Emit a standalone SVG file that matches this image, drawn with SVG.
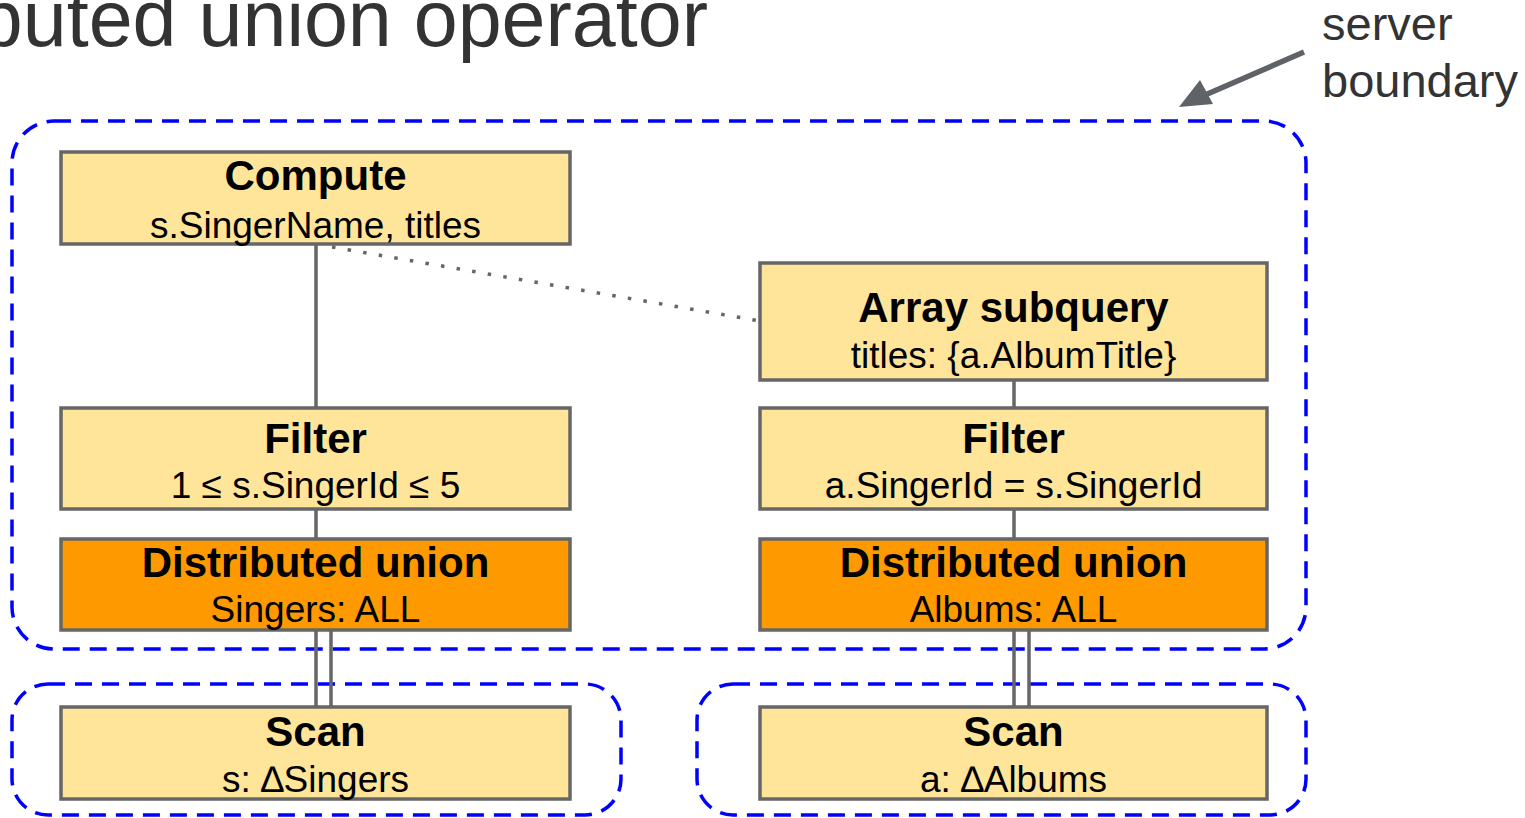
<svg xmlns="http://www.w3.org/2000/svg" width="1525" height="818" viewBox="0 0 1525 818">
<style>
.box{fill:#ffe599;stroke:#666666;stroke-width:3.5}
.du{fill:#ff9900;stroke:#666666;stroke-width:3.5}
.b{font-family:"Liberation Sans",Arial,sans-serif;font-weight:bold;font-size:42px;fill:#000;text-anchor:middle}
.r{font-family:"Liberation Sans",Arial,sans-serif;font-size:37px;fill:#000;text-anchor:middle}
.bound{fill:none;stroke:#0000ff;stroke-width:3.5;stroke-dasharray:17 10}
.conn{stroke:#666666;stroke-width:3.5;fill:none}
.ann{font-family:"Liberation Sans",Arial,sans-serif;fill:#333333}
</style>
<rect width="1525" height="818" fill="#ffffff"/>
<text class="ann" font-size="79" text-anchor="end" x="708" y="46">Distributed union operator</text>
<g id="server-label">
<text class="ann" font-size="47" x="1322" y="40">server</text>
<text class="ann" font-size="47" x="1322" y="97">boundary</text>
<line x1="1304" y1="52" x2="1205" y2="95" stroke="#5f6368" stroke-width="5.5"/>
<polygon points="1179,107 1200,80 1213,104" fill="#5f6368"/>
</g>
<g id="boundaries">
<rect class="bound" x="12" y="121" width="1294" height="528" rx="42"/>
<rect class="bound" x="12" y="684" width="609" height="131" rx="36"/>
<rect class="bound" x="697" y="684" width="609" height="131" rx="36"/>
</g>
<g id="connectors">
<line class="conn" x1="316" y1="244" x2="316" y2="408"/>
<line class="conn" x1="316" y1="509" x2="316" y2="539"/>
<line class="conn" x1="316" y1="630" x2="316" y2="707"/>
<line class="conn" x1="331" y1="630" x2="331" y2="707"/>
<line class="conn" x1="1014" y1="380" x2="1014" y2="408"/>
<line class="conn" x1="1014" y1="509" x2="1014" y2="539"/>
<line class="conn" x1="1014" y1="630" x2="1014" y2="707"/>
<line class="conn" x1="1029" y1="630" x2="1029" y2="707"/>
<line x1="332" y1="247" x2="760" y2="321" stroke="#666666" stroke-width="3.5" stroke-dasharray="3.5 12.3"/>
</g>
<g id="compute">
<rect class="box" x="61" y="152" width="509" height="92"/>
<text class="b" x="315.5" y="190">Compute</text>
<text class="r" x="315.5" y="238">s.SingerName, titles</text>
</g>
<g id="array-subquery">
<rect class="box" x="760" y="263" width="507" height="117"/>
<text class="b" x="1013.5" y="322">Array subquery</text>
<text class="r" x="1013.5" y="368">titles: {a.AlbumTitle}</text>
</g>
<g id="filter-left">
<rect class="box" x="61" y="408" width="509" height="101"/>
<text class="b" x="315.5" y="453">Filter</text>
<text class="r" x="315.5" y="498">1 ≤ s.SingerId ≤ 5</text>
</g>
<g id="filter-right">
<rect class="box" x="760" y="408" width="507" height="101"/>
<text class="b" x="1013.5" y="453">Filter</text>
<text class="r" x="1013.5" y="498">a.SingerId = s.SingerId</text>
</g>
<g id="du-left">
<rect class="du" x="61" y="539" width="509" height="91"/>
<text class="b" x="315.5" y="577">Distributed union</text>
<text class="r" x="315.5" y="622">Singers: ALL</text>
</g>
<g id="du-right">
<rect class="du" x="760" y="539" width="507" height="91"/>
<text class="b" x="1013.5" y="577">Distributed union</text>
<text class="r" x="1013.5" y="622">Albums: ALL</text>
</g>
<g id="scan-left">
<rect class="box" x="61" y="707" width="509" height="92"/>
<text class="b" x="315.5" y="746">Scan</text>
<text class="r" x="315.5" y="792">s: ∆Singers</text>
</g>
<g id="scan-right">
<rect class="box" x="760" y="707" width="507" height="92"/>
<text class="b" x="1013.5" y="746">Scan</text>
<text class="r" x="1013.5" y="792">a: ∆Albums</text>
</g>
</svg>
